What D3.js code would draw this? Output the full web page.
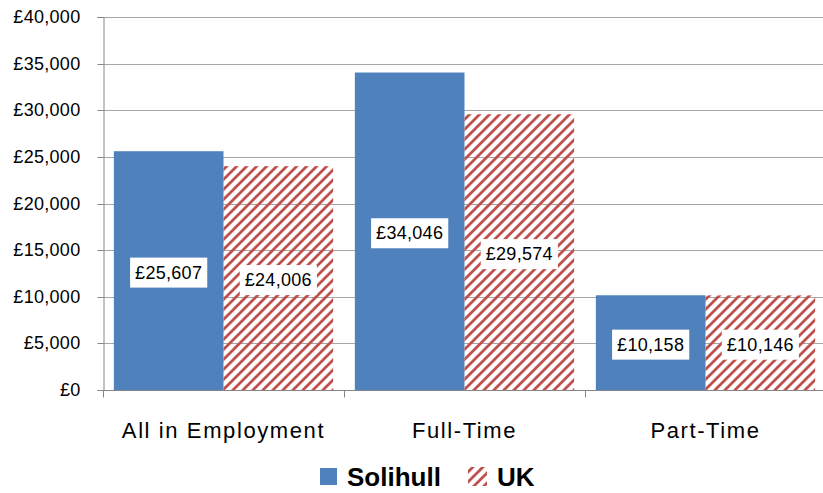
<!DOCTYPE html>
<html><head><meta charset="utf-8">
<script src="https://cdn.jsdelivr.net/npm/d3@7"></script>
<style>
html,body{margin:0;padding:0;background:#fff;}
svg{display:block;font-family:"Liberation Sans",Arial,sans-serif;}
</style></head>
<body>
<svg id="c" width="823" height="493"></svg>
<script>
const categories = ["All in Employment", "Full-Time", "Part-Time"];
const seriesNames = ["Solihull", "UK"];
const solihull = [25607, 34046, 10158];
const uk = [24006, 29574, 10146];
const yTicks = [0, 5000, 10000, 15000, 20000, 25000, 30000, 35000, 40000];

const svg = d3.select("#c");
const blue = "#4f81bd", red = "#c0504d";
const pLeft = 103, pRight = 826, pTop = 17, pBottom = 390;

const defs = svg.append("defs");
const pat = defs.append("pattern").attr("id","hatch").attr("patternUnits","userSpaceOnUse")
  .attr("width",10).attr("height",10);
pat.append("path").attr("d","M-2,2 L2,-2 M0,10 L10,0 M8,12 L12,8")
  .attr("stroke",red).attr("stroke-width",2.8);

const y = d3.scaleLinear().domain([0,40000]).range([pBottom, pTop]);
const x0 = d3.scaleBand().domain(categories).range([pLeft, pRight]).padding(0);
const gap = x0.bandwidth()*0.045;
const x1 = d3.scaleBand().domain(seriesNames).range([gap, x0.bandwidth()-gap]).padding(0);

const fmt = v => "£" + d3.format(",")(v);

// gridlines
svg.append("g").selectAll("line").data(yTicks.filter(d=>d>0)).join("line")
  .attr("x1", pLeft).attr("x2", 823).attr("y1", d=>Math.round(y(d))+0.5).attr("y2", d=>Math.round(y(d))+0.5)
  .attr("stroke","#a6a6a6").attr("stroke-width",1);

// y axis
const yAxis = svg.append("g").attr("transform",`translate(${pLeft+0.5},0)`)
  .call(d3.axisLeft(y).tickValues(yTicks).tickFormat(d=>fmt(d)).tickSize(6).tickPadding(17));
yAxis.select(".domain").attr("stroke","#868686");
yAxis.selectAll(".tick line").attr("stroke","#868686");
yAxis.selectAll("text").attr("font-size",18).attr("fill","#000").attr("font-family","Liberation Sans, Arial, sans-serif").attr("letter-spacing",0.3);
yAxis.selectAll(".tick").attr("transform", d=>`translate(0,${Math.round(y(d))+0.5})`);

const data = categories.map((c,i)=>({cat:c, vals:[{s:"Solihull",v:solihull[i]},{s:"UK",v:uk[i]}]}));

const groups = svg.append("g").selectAll("g").data(data).join("g")
  .attr("transform", d=>`translate(${x0(d.cat)},0)`);
groups.selectAll("rect").data(d=>d.vals).join("rect")
  .attr("x", d=>x1(d.s)).attr("width", x1.bandwidth())
  .attr("y", d=>y(d.v)).attr("height", d=>pBottom - y(d.v))
  .attr("fill", d=> d.s==="Solihull" ? blue : "url(#hatch)");

// x axis
const xAxisG = svg.append("g").attr("transform",`translate(0,${pBottom+0.5})`);
xAxisG.append("line").attr("x1",pLeft).attr("x2",823).attr("stroke","#868686");
const bounds = categories.map(c=>x0(c)).concat([pRight]);
xAxisG.selectAll("line.tk").data(bounds).join("line").attr("class","tk")
  .attr("x1",d=>Math.round(d)+0.5).attr("x2",d=>Math.round(d)+0.5).attr("y1",0).attr("y2",7).attr("stroke","#868686");
xAxisG.selectAll("text").data(categories).join("text")
  .attr("x", d=>x0(d)+x0.bandwidth()/2).attr("y", 47)
  .attr("text-anchor","middle").attr("font-size",22).attr("letter-spacing",1.6)
  .attr("fill","#000").text(d=>d);

// data labels
groups.each(function(d){
  const g = d3.select(this);
  d.vals.forEach(v=>{
    const cx = x1(v.s) + x1.bandwidth()/2;
    const cy = (y(v.v)+pBottom)/2 + 2;
    const lg = g.append("g");
    const r = lg.append("rect").attr("fill","#fff");
    const t = lg.append("text").attr("x",cx).attr("y",cy).attr("text-anchor","middle")
      .attr("dominant-baseline","central").attr("font-size",18).attr("letter-spacing",0.3)
      .attr("fill","#000").text(fmt(v.v));
    const w = t.node().getComputedTextLength();
    r.attr("x", cx - w/2 - 5).attr("width", w+10).attr("y", cy-15).attr("height",30);
  });
});

// legend
const leg = svg.append("g");
leg.append("rect").attr("x",320).attr("y",468).attr("width",17).attr("height",17).attr("fill",blue);
leg.append("text").attr("x",347).attr("y",486).attr("font-size",26).attr("font-weight","bold").attr("fill","#000").text(seriesNames[0]);
leg.append("rect").attr("x",468).attr("y",467).attr("width",19).attr("height",19).attr("fill","url(#hatch)");
leg.append("text").attr("x",497).attr("y",486).attr("font-size",26).attr("font-weight","bold").attr("fill","#000").text(seriesNames[1]);
</script>
</body></html>
